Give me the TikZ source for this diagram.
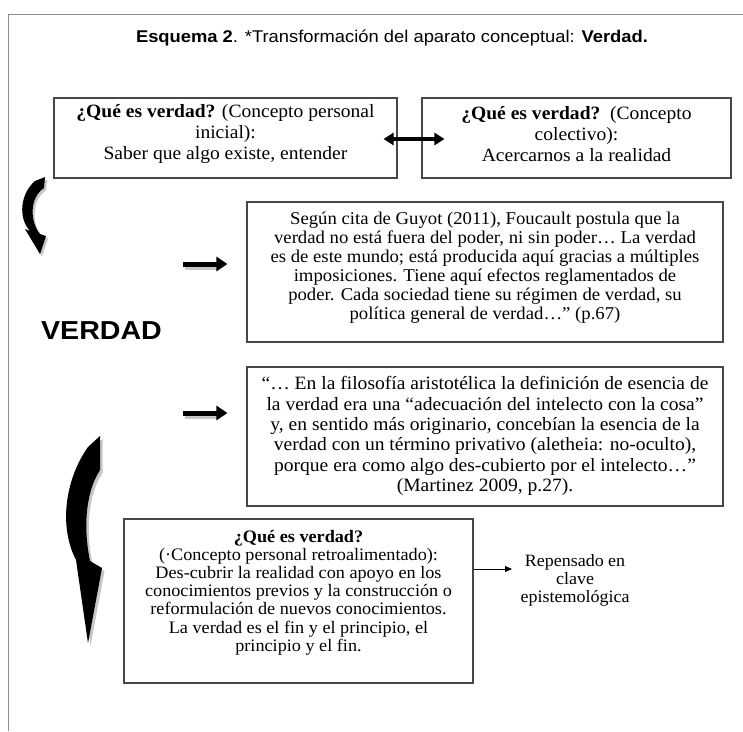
\documentclass[tikz,border=0pt]{standalone}
\usepackage{fontspec}
\usepackage{graphicx}
\setmainfont{Liberation Serif}[FakeStretch=1.04]
\newfontfamily\arialfam{Liberation Sans}
\usetikzlibrary{arrows.meta,shadows}
\begin{document}
\begin{tikzpicture}[x=1pt,y=-1pt,
  framerule/.style={draw=black!45, line width=0.9pt},
  conceptbox/.style={draw=black!72, line width=1.1pt, fill=white, inner sep=0pt,
    drop shadow={shadow xshift=1.2pt, shadow yshift=-1.2pt, opacity=0.25, fill=black}},
  bodytext/.style={align=center, inner sep=0pt},
  blockarrow/.style={line width=5pt, -{Triangle[length=11pt,width=14pt]}},
  dblarrow/.style={line width=4pt, {Triangle[length=10pt,width=12pt]}-{Triangle[length=10pt,width=12pt]}},
  thinarrow/.style={line width=0.9pt, -{Triangle[length=7pt,width=6pt]}},
  curlshadow/.style={fill=black, opacity=0.22}
]
\useasboundingbox (0,0) rectangle (743,731);
\fill[white] (0,0) rectangle (743,731);

% page frame (open to the right and bottom)
\draw[framerule] (743,14) -- (8,14) -- (8,731);

% title
\node (title) at (392,38) {\arialfam\fontsize{17}{20}\selectfont\scalebox{1.08}[1]{%
  \textbf{Esquema 2}. *Transformación del aparato conceptual: \textbf{Verdad.}}};

% first row: personal and collective concept
\node[conceptbox, minimum width=343, minimum height=80] (qa) at (225.5,138) {};
\node[bodytext, font=\fontsize{18.8}{21}\selectfont] (qat) at (225.5,134)
  {\textbf{¿Qué es verdad?} (Concepto personal\\ inicial):\\ Saber que algo existe, entender};
\node[conceptbox, minimum width=309, minimum height=80] (qb) at (576.5,138) {};
\node[bodytext, font=\fontsize{18.8}{21}\selectfont] (qbt) at (576.5,134)
  {\textbf{¿Qué es verdad?}\ \ (Concepto\\ colectivo):\\ Acercarnos a la realidad};
\draw[dblarrow] ([xshift=-14pt,yshift=-1pt]qa.east) -- ([xshift=23pt,yshift=-1pt]qb.west);

% quotation boxes
\node[conceptbox, minimum width=476, minimum height=140] (qc) at (485,272) {};
\node[bodytext, font=\fontsize{18}{19}\selectfont] (qct) at (485,268)
  {Según cita de Guyot (2011), Foucault postula que la\\
   verdad no está fuera del poder, ni sin poder… La verdad\\
   es de este mundo; está producida aquí gracias a múltiples\\
   imposiciones. Tiene aquí efectos reglamentados de\\
   poder. Cada sociedad tiene su régimen de verdad, su\\
   política general de verdad…” (p.67)};
\node[conceptbox, minimum width=476, minimum height=139] (qd) at (485,436.5) {};
\node[bodytext, font=\fontsize{18.8}{20.4}\selectfont] (qdt) at (485,436)
  {“… En la filosofía aristotélica la definición de esencia de\\
   la verdad era una “adecuación del intelecto con la cosa”\\
   y, en sentido más originario, concebían la esencia de la\\
   verdad con un término privativo (aletheia: no-oculto),\\
   porque era como algo des-cubierto por el intelecto…”\\
   (Martinez 2009, p.27).};

% feedback concept
\node[conceptbox, minimum width=349, minimum height=164] (qe) at (298.5,601) {};
\node[bodytext, font=\fontsize{17.5}{18.2}\selectfont] (qet) at (298.5,592.5)
  {\textbf{¿Qué es verdad?}\\
   (·Concepto personal retroalimentado):\\
   Des-cubrir la realidad con apoyo en los\\
   conocimientos previos y la construcción o\\
   reformulación de nuevos conocimientos.\\
   La verdad es el fin y el principio, el\\
   principio y el fin.};
\node[bodytext, font=\fontsize{17.3}{18}\selectfont] (rep) at (575,580)
  {Repensado en\\ clave\\ epistemológica};
\coordinate (r1) at (512,569);
\draw[thinarrow] (qe.east |- r1) -- (r1);

% central label
\node (verdad) at (101.5,331) {\arialfam\bfseries\fontsize{26}{26}\selectfont\scalebox{1.1}[1]{VERDAD}};

% straight block arrows towards the quotations
\coordinate (s2) at (183,264);
\coordinate (s3) at (183,413);
\fill[curlshadow] (185,266.5) rectangle (218,269.5);
\draw[blockarrow] (s2) -- ([xshift=-19pt]qc.west |- s2);
\fill[curlshadow] (185,415.5) rectangle (218,418.5);
\draw[blockarrow] (s3) -- ([xshift=-19pt]qd.west |- s3);

% upper curved arrow
\begin{scope}[shift={(2,2.5)}]
\fill[curlshadow] (45,177) -- (35,181) .. controls (20,194) and (18,218) .. (30,231)
  -- (25,229) -- (40,254) -- (46,236) -- (40,234)
  .. controls (30,222) and (29,198) .. (44,188) -- cycle;
\end{scope}
\fill[black] (45,177) -- (35,181) .. controls (20,194) and (18,218) .. (30,231)
  -- (25,229) -- (40,254) -- (46,236) -- (40,234)
  .. controls (30,222) and (29,198) .. (44,188) -- cycle;

% lower curved arrow
\begin{scope}[shift={(2.5,3)}]
\fill[curlshadow] (100,436) -- (88,447) .. controls (66,478) and (58,525) .. (76,560)
  -- (88,643) -- (102,568) -- (90,561)
  .. controls (84,532) and (84,495) .. (100,470) -- cycle;
\end{scope}
\fill[black] (100,436) -- (88,447) .. controls (66,478) and (58,525) .. (76,560)
  -- (88,643) -- (102,568) -- (90,561)
  .. controls (84,532) and (84,495) .. (100,470) -- cycle;
\end{tikzpicture}
\end{document}
